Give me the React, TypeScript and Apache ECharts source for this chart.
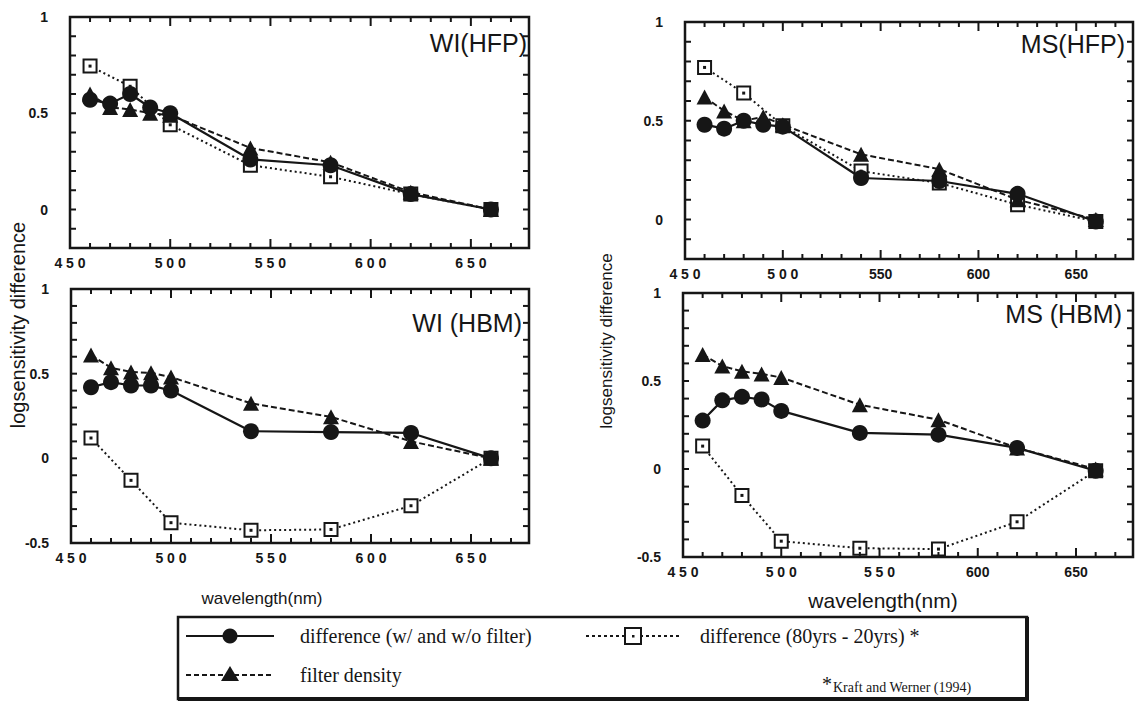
import React, { useEffect, useRef } from 'react';
import * as echarts from 'echarts';

// ---------- data ----------
const wavelengths = [460, 470, 480, 490, 500, 540, 580, 620, 660];
const wavelengthsAge = [460, 480, 500, 540, 580, 620, 660];

// WI (HFP)
const diffWIHFP = [0.57, 0.55, 0.6, 0.53, 0.5, 0.26, 0.23, 0.08, 0.0];
const filtWIHFP = [0.6, 0.53, 0.52, 0.5, 0.49, 0.32, 0.245, 0.09, 0.0];
const ageWIHFP = [0.745, 0.64, 0.44, 0.23, 0.17, 0.08, 0.0];

// MS (HFP)
const diffMSHFP = [0.48, 0.46, 0.5, 0.48, 0.47, 0.21, 0.195, 0.13, -0.01];
const filtMSHFP = [0.62, 0.55, 0.5, 0.52, 0.48, 0.33, 0.255, 0.1, 0.0];
const ageMSHFP = [0.77, 0.64, 0.475, 0.245, 0.185, 0.075, -0.01];

// WI (HBM)
const diffWIHBM = [0.42, 0.45, 0.43, 0.43, 0.4, 0.16, 0.155, 0.15, 0.0];
const filtWIHBM = [0.61, 0.535, 0.51, 0.505, 0.48, 0.325, 0.245, 0.1, 0.0];
const ageWIHBM = [0.12, -0.13, -0.38, -0.425, -0.42, -0.28, 0.0];

// MS (HBM)
const diffMSHBM = [0.275, 0.39, 0.41, 0.395, 0.33, 0.205, 0.195, 0.12, -0.01];
const filtMSHBM = [0.65, 0.585, 0.555, 0.54, 0.52, 0.365, 0.28, 0.12, 0.0];
const ageMSHBM = [0.13, -0.15, -0.41, -0.45, -0.455, -0.3, -0.01];

const xTickValues = [450, 500, 550, 600, 650];
const xTickLabelsWI = ['4 5 0', '5 0 0', '5 5 0', '6 0 0', '6 5 0'];
const xTickLabelsMSHFP = ['4 5 0', '5 0 0', '550', '600', '650'];
const xTickLabelsMSHBM = ['4 5 0', '5 0 0', '5 5 0', '600', '650'];
const yTickValues = [-0.5, 0, 0.5, 1];
const yTickLabels = ['-0.5', '0', '0.5', '1'];

const panelTitles = ['WI(HFP)', 'MS(HFP)', 'WI (HBM)', 'MS (HBM)'];
const legendLabels = ['difference (w/ and w/o filter)', 'filter density', 'difference (80yrs - 20yrs) *'];
const footnote = 'Kraft and Werner (1994)';
const xAxisTitle = 'wavelength(nm)';
const yAxisTitle = 'logsensitivity difference';

// ---------- layout ----------
const ink = '#161616';
const sans = '"Liberation Sans", Arial, sans-serif';
const serif = '"Liberation Serif", "Times New Roman", serif';
const X_MIN = 450;
const X_MAX = 679;
const Y_MAX = 1;

const panels = [
  { grid: { left: 70, top: 17, width: 459, height: 231 }, yMin: -0.2, xLabels: xTickLabelsWI, diff: diffWIHFP, filt: filtWIHFP, age: ageWIHFP, title: { x: 527, y: 43 } },
  { grid: { left: 685, top: 22, width: 448, height: 237 }, yMin: -0.2, xLabels: xTickLabelsMSHFP, diff: diffMSHFP, filt: filtMSHFP, age: ageMSHFP, title: { x: 1125, y: 44 } },
  { grid: { left: 71, top: 289, width: 458, height: 254 }, yMin: -0.5, xLabels: xTickLabelsWI, diff: diffWIHBM, filt: filtWIHBM, age: ageWIHBM, title: { x: 522, y: 323 } },
  { grid: { left: 683, top: 293, width: 450, height: 264 }, yMin: -0.5, xLabels: xTickLabelsMSHBM, diff: diffMSHBM, filt: filtMSHBM, age: ageMSHBM, title: { x: 1122, y: 314 } },
];

function zip(xs: number[], ys: number[]) {
  return xs.map((x, i) => [x, ys[i]]);
}

// tick rows for the frame: [value, kind (0 = x tick, 1 = y tick), length]
function frameTicks(yMin: number) {
  const rows: number[][] = [];
  for (let k = 0; X_MIN + k * 10 < X_MAX; k++) {
    const v = X_MIN + k * 10;
    rows.push([v, 0, v % 50 === 0 ? 9 : 5]);
  }
  const n = Math.round((Y_MAX - yMin) / 0.1);
  for (let k = 0; k <= n; k++) {
    const v = Math.round((yMin + k * 0.1) * 10) / 10;
    rows.push([v, 1, 6]);
  }
  return rows;
}

function buildOption() {
  const xAxis: any[] = [];
  const yAxis: any[] = [];
  const series: any[] = [];
  const grid = panels.map((p) => ({
    ...p.grid,
    containLabel: false,
    show: true,
    borderColor: ink,
    borderWidth: 2.5,
    backgroundColor: 'transparent',
  }));

  panels.forEach((p, i) => {
    xAxis.push({
      type: 'value',
      gridIndex: i,
      min: X_MIN,
      max: X_MAX,
      interval: 10,
      position: 'bottom',
      splitLine: { show: false },
      axisLine: { show: false, onZero: false },
      axisTick: { show: false },
      axisLabel: {
        show: true,
        margin: 8,
        color: ink,
        fontFamily: sans,
        fontWeight: 'bold',
        fontSize: 14,
        formatter: (v: number) => {
          const r = Math.round(v);
          if (Math.abs(v - r) > 1e-6) return '';
          const k = xTickValues.indexOf(r);
          return k >= 0 ? p.xLabels[k] : '';
        },
      },
    });
    yAxis.push({
      type: 'value',
      gridIndex: i,
      min: p.yMin,
      max: Y_MAX,
      interval: 0.1,
      position: 'left',
      splitLine: { show: false },
      axisLine: { show: false, onZero: false },
      axisTick: { show: false },
      axisLabel: {
        show: true,
        margin: 22,
        color: ink,
        fontFamily: sans,
        fontWeight: 'bold',
        fontSize: 14,
        formatter: (v: number) => {
          for (let k = 0; k < yTickValues.length; k++) {
            if (Math.abs(v - yTickValues[k]) < 1e-6) return yTickLabels[k];
          }
          return '';
        },
      },
    });

    const common = { xAxisIndex: i, yAxisIndex: i, silent: true, animation: false };

    // inward tick marks on all four sides, positioned through the axes' scales
    const yMin = p.yMin;
    series.push({
      ...common,
      type: 'custom',
      coordinateSystem: 'cartesian2d',
      z: 10,
      clip: false,
      data: frameTicks(yMin),
      renderItem: (params: any, api: any) => {
        const v = api.value(0);
        const kind = api.value(1);
        const len = api.value(2);
        const style = { stroke: ink, lineWidth: 2 };
        if (kind === 0) {
          const b = api.coord([v, yMin]);
          const t = api.coord([v, Y_MAX]);
          return {
            type: 'group',
            children: [
              { type: 'line', shape: { x1: b[0], y1: b[1], x2: b[0], y2: b[1] - len }, style },
              { type: 'line', shape: { x1: t[0], y1: t[1], x2: t[0], y2: t[1] + len }, style },
            ],
          };
        }
        const l = api.coord([X_MIN, v]);
        const r = api.coord([X_MAX, v]);
        return {
          type: 'group',
          children: [
            { type: 'line', shape: { x1: l[0], y1: l[1], x2: l[0] + len, y2: l[1] }, style },
            { type: 'line', shape: { x1: r[0], y1: r[1], x2: r[0] - len, y2: r[1] }, style },
          ],
        };
      },
    });

    series.push({
      ...common,
      type: 'line',
      data: zip(wavelengthsAge, p.age),
      symbol: 'rect',
      symbolSize: 13,
      z: 2,
      itemStyle: { color: '#ffffff', borderColor: ink, borderWidth: 2 },
      lineStyle: { color: ink, width: 2, type: [2, 3] },
    });
    series.push({
      ...common,
      type: 'line',
      data: zip(wavelengthsAge, p.age),
      symbol: 'rect',
      symbolSize: 3,
      z: 3,
      itemStyle: { color: ink },
      lineStyle: { width: 0, opacity: 0 },
    });
    series.push({
      ...common,
      type: 'line',
      data: zip(wavelengths, p.filt),
      symbol: 'triangle',
      symbolSize: [16, 15],
      z: 4,
      itemStyle: { color: ink },
      lineStyle: { color: ink, width: 2, type: [6, 3] },
    });
    series.push({
      ...common,
      type: 'line',
      data: zip(wavelengths, p.diff),
      symbol: 'circle',
      symbolSize: 16,
      z: 5,
      itemStyle: { color: ink },
      lineStyle: { color: ink, width: 2.2 },
    });
  });

  const graphic: any[] = [];
  panels.forEach((p, i) => {
    graphic.push({
      type: 'text',
      x: p.title.x,
      y: p.title.y,
      z: 50,
      style: { text: panelTitles[i], fill: ink, fontSize: 25, fontFamily: sans, align: 'right', verticalAlign: 'middle' },
    });
  });

  const txt = (text: string, x: number, y: number, size: number, family: string, extra: any = {}) => ({
    type: 'text',
    x,
    y,
    z: 50,
    ...extra,
    style: {
      text,
      fill: ink,
      fontSize: size,
      fontFamily: family,
      align: extra.align || 'center',
      verticalAlign: 'middle',
    },
  });
  graphic.push(txt(xAxisTitle, 262, 598, 17, sans));
  graphic.push(txt(xAxisTitle, 883, 600, 21, sans));
  graphic.push(txt(yAxisTitle, 18, 325, 20, sans, { rotation: Math.PI / 2 }));
  graphic.push(txt(yAxisTitle, 606, 341, 17, sans, { rotation: Math.PI / 2 }));

  // legend box
  graphic.push({ type: 'rect', z: 40, shape: { x: 178, y: 617, width: 849, height: 82 }, style: { fill: '#ffffff', stroke: ink, lineWidth: 2.5 } });
  graphic.push({ type: 'line', z: 41, shape: { x1: 1027, y1: 617, x2: 1027, y2: 700 }, style: { stroke: ink, lineWidth: 4 } });
  graphic.push({ type: 'line', z: 41, shape: { x1: 178, y1: 699, x2: 1029, y2: 699 }, style: { stroke: ink, lineWidth: 4 } });

  const r1 = 636;
  const r2 = 675;
  graphic.push({ type: 'line', z: 42, shape: { x1: 186, y1: r1, x2: 274, y2: r1 }, style: { stroke: ink, lineWidth: 2 } });
  graphic.push({ type: 'circle', z: 43, shape: { cx: 230, cy: r1, r: 7.5 }, style: { fill: ink } });
  graphic.push({ type: 'line', z: 42, shape: { x1: 186, y1: r2, x2: 274, y2: r2 }, style: { stroke: ink, lineWidth: 2, lineDash: [5, 3] } });
  graphic.push({ type: 'polygon', z: 43, shape: { points: [[230, r2 - 9], [221, r2 + 6], [239, r2 + 6]] }, style: { fill: ink } });
  graphic.push({ type: 'line', z: 42, shape: { x1: 586, y1: r1, x2: 680, y2: r1 }, style: { stroke: ink, lineWidth: 2, lineDash: [3, 3] } });
  graphic.push({ type: 'rect', z: 43, shape: { x: 625, y: r1 - 8, width: 16, height: 16 }, style: { fill: '#ffffff', stroke: ink, lineWidth: 2 } });
  graphic.push({ type: 'rect', z: 44, shape: { x: 632, y: r1 - 1, width: 2.5, height: 2.5 }, style: { fill: ink } });

  graphic.push(txt(legendLabels[0], 300, r1, 20, serif, { align: 'left' }));
  graphic.push(txt(legendLabels[1], 300, r2, 20, serif, { align: 'left' }));
  graphic.push(txt(legendLabels[2], 700, r1, 20, serif, { align: 'left' }));
  graphic.push(txt('*', 822, r2 + 9, 20, serif, { align: 'left' }));
  graphic.push(txt(footnote, 833, r2 + 12, 14, serif, { align: 'left' }));

  return {
    animation: false,
    backgroundColor: '#ffffff',
    grid,
    xAxis,
    yAxis,
    series,
    graphic,
  };
}

export default function App() {
  const ref = useRef<HTMLDivElement>(null);
  useEffect(() => {
    if (!ref.current) return;
    const chart = echarts.init(ref.current, undefined, { renderer: 'svg' });
    chart.setOption(buildOption() as any);
    return () => chart.dispose();
  }, []);
  return (
    <div
      ref={ref}
      style={{ position: 'fixed', left: 0, top: 0, width: 1137, height: 703, background: '#ffffff' }}
    />
  );
}
